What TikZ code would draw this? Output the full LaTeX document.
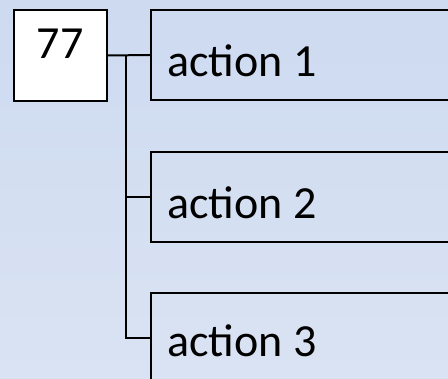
\documentclass[tikz,border=0pt]{standalone}
\usepackage{fontspec}
\setmainfont{Carlito}
\definecolor{bgtop}{RGB}{205,218,240}
\definecolor{bgbot}{RGB}{218,227,243}
\begin{document}
\begin{tikzpicture}[x=1pt,y=-1pt,
  frame/.style={draw=black,line width=2pt,rectangle,inner sep=0pt,anchor=north west},
  keybox/.style={frame,fill=white,minimum width=93pt,minimum height=91pt},
  actbox/.style={frame,minimum width=330pt,minimum height=90pt},
  lbl/.style={anchor=base west,inner sep=0pt,font=\fontsize{46}{55}\selectfont},
  link/.style={draw=black,line width=2pt}]
\useasboundingbox (0,0) rectangle (448,379);
\shade[top color=bgtop,bottom color=bgbot] (0,0) rectangle (448,379);
\clip (0,0) rectangle (448,379);
% key box and action boxes
\node[keybox] (key) at (12.5,9) {};
\node[anchor=base,inner sep=0pt,font=\fontsize{46}{55}\selectfont] (keytxt) at (60,59) {77};
\node[actbox] (a1) at (150,9) {};
\node[actbox] (a2) at (150,151) {};
\node[actbox] (a3) at (150,292) {};
\node[lbl] (t1) at (167,77) {action 1};
\node[lbl] (t2) at (167,219) {action 2};
\node[lbl] (t3) at (167,357) {action 3};
% connectors
\coordinate (j) at (126,0);
\draw[link] (key.east) -- (a1.west);
\draw[link] (j|-key.east) |- (a3.west);
\draw[link] (j|-a2.west) -- (a2.west);
\end{tikzpicture}
\end{document}
